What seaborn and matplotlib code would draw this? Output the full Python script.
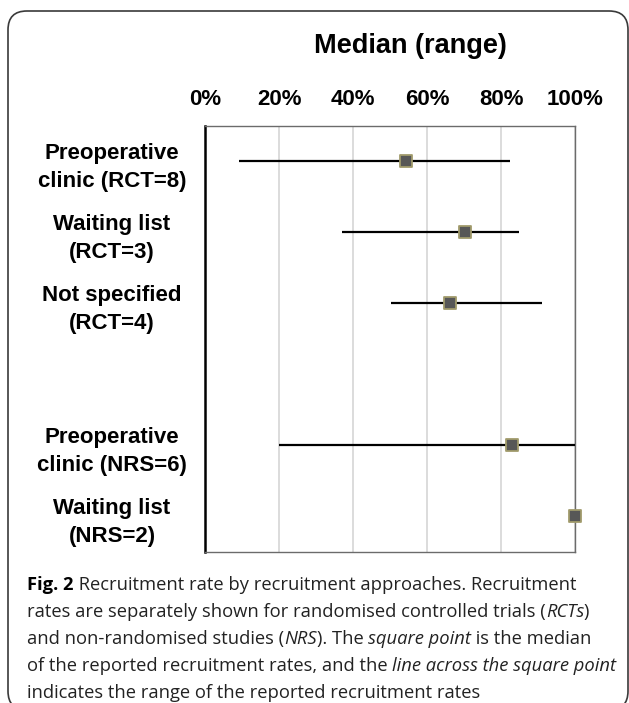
import numpy as np
import pandas as pd
import matplotlib
matplotlib.use("Agg")
import matplotlib.pyplot as plt
import seaborn as sns
from matplotlib.patches import FancyBboxPatch

# ---------------- data ----------------
categories = ["Preoperative\nclinic (RCT=8)", "Waiting list\n(RCT=3)", "Not specified\n(RCT=4)",
              " ", "Preoperative\nclinic (NRS=6)", "Waiting list\n(NRS=2)"]
median_pct = [54.3, 70.1, 66.2, np.nan, 83.0, 100.0]
range_low = [9.2, 36.9, 50.3, np.nan, 20.0, 100.0]
range_high = [82.4, 84.9, 90.9, np.nan, 100.0, 100.0]
tick_values = [0, 20, 40, 60, 80, 100]
tick_labels = ["0%", "20%", "40%", "60%", "80%", "100%"]
title = "Median (range)"
caption = [
    [("Fig. 2", "bold", "normal"), (" Recruitment rate by recruitment approaches. Recruitment", "normal", "normal")],
    [("rates are separately shown for randomised controlled trials (", "normal", "normal"), ("RCTs", "normal", "italic"), (")", "normal", "normal")],
    [("and non-randomised studies (", "normal", "normal"), ("NRS", "normal", "italic"), ("). The ", "normal", "normal"),
     ("square point", "normal", "italic"), (" is the median", "normal", "normal")],
    [("of the reported recruitment rates, and the ", "normal", "normal"), ("line across the square point", "normal", "italic")],
    [("indicates the range of the reported recruitment rates", "normal", "normal")],
]

df = pd.DataFrame({"category": categories, "median": median_pct,
                   "low": range_low, "high": range_high})
dfp = df.dropna()

# ---------------- figure ----------------
sns.set_theme(style="white")
plt.rcParams["font.family"] = ["Liberation Sans", "DejaVu Sans"]
plt.rcParams["text.color"] = "black"
plt.rcParams["xtick.color"] = "black"
plt.rcParams["ytick.color"] = "black"
W, H = 629, 703
fig = plt.figure(figsize=(W / 100, H / 100), dpi=100)

def fx(px):
    return px / W

def fy(py):
    return 1 - py / H

ax = fig.add_axes([fx(205), fy(551.7), fx(575.3) - fx(205), fy(125.7) - fy(551.7)])

# range lines
ypos = [categories.index(c) for c in dfp["category"]]
ax.hlines(ypos, dfp["low"], dfp["high"], color="black", lw=1.6, zorder=3)
# medians
sns.stripplot(data=dfp, x="median", y="category", order=categories, jitter=False,
              marker="s", size=9, color="#575757", edgecolor="#a19b6c", linewidth=1.3,
              ax=ax, zorder=4)
for c in ax.collections:
    c.set_clip_on(False)

ax.set_xlim(0, 100)
ax.set_ylim(len(categories) - 0.5, -0.5)
ax.set_xticks(tick_values)
ax.set_xticklabels(tick_labels)
ax.xaxis.grid(True, color="#d9d9d9", lw=1.3)
ax.tick_params(axis="x", length=0, top=False, bottom=False, labeltop=True, labelbottom=False,
               labelsize=16, pad=11)
for lab in ax.get_xticklabels():
    lab.set_fontweight("bold")
ax.set_xlabel("")
ax.set_ylabel("")
for s in ["top", "right", "bottom"]:
    ax.spines[s].set_color("#6b6b6b")
    ax.spines[s].set_linewidth(1.0)
    ax.spines[s].set_visible(True)
ax.spines["left"].set_color("black")
ax.spines["left"].set_linewidth(1.8)
ax.spines["left"].set_visible(True)

ax.tick_params(axis="y", length=0, pad=93 * 0.72)
for lab in ax.get_yticklabels():
    lab.set_fontweight("bold")
    lab.set_fontsize(16)
    lab.set_horizontalalignment("center")
    lab.set_multialignment("center")
    lab.set_linespacing(1.45)

fig.text(fx(410), fy(46), title, ha="center", va="center", fontsize=19.5, fontweight="bold")

# frame
box = FancyBboxPatch((fx(8), fy(710)), fx(628) - fx(8), fy(11) - fy(710),
                     boxstyle="round,pad=0,rounding_size=0.03", transform=fig.transFigure,
                     fill=False, ec="#3a3a3a", lw=1.2, mutation_aspect=W / H)
fig.patches.append(box)

# caption
fig.canvas.draw()
renderer = fig.canvas.get_renderer()
cap_family = ["Open Sans", "DejaVu Sans"]
line_y = [590, 617, 644, 671, 698]
for line, y in zip(caption, line_y):
    x = 27
    for txt, weight, style in line:
        t = fig.text(fx(x), fy(y), txt, ha="left", va="baseline", fontsize=13.2,
                     fontweight=weight, fontstyle=style, family=cap_family,
                     color="black" if weight == "bold" else "#222222")
        bb = t.get_window_extent(renderer=renderer)
        x += bb.width

fig.savefig("out.png", dpi=100)
